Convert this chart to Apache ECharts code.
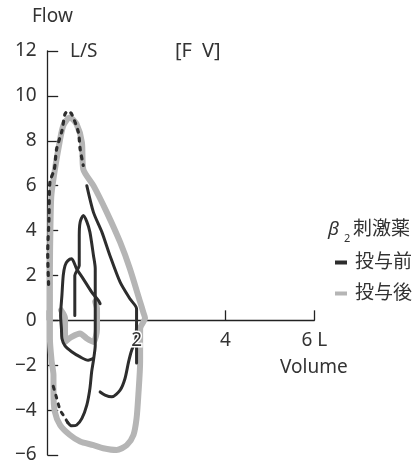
<!DOCTYPE html>
<html>
<head>
<meta charset="utf-8">
<script src="https://cdn.jsdelivr.net/npm/echarts@6/dist/echarts.min.js"></script>
<style>
  html, body { margin: 0; padding: 0; background: #fff; }
  #chart { width: 412px; height: 465px; }
</style>
</head>
<body>
<div id="chart"></div>
<script>
// ---- Data (Volume [L], Flow [L/S]) ----
const xTicks = [0, 2, 4, 6];
const xTickLabels = ['', '2', '4', '6 L'];
const yTicks = [-6, -4, -2, 0, 2, 4, 6, 8, 10, 12];
const seriesNames = ['投与前', '投与後'];

// 投与後 (after) – big flow-volume loop
const postMain = [
  [0.05,0.07],[0.05,1.26],[0.05,2.2],[0.06,4.0],[0.08,5.5],[0.13,6.3],[0.24,7.63],[0.35,8.67],
  [0.5,9.04],[0.65,8.74],[0.77,7.93],[0.8,6.74],[1.03,6.0],[1.33,4.81],[1.63,3.48],[1.85,2.3],
  [2.08,0.82],[2.15,0.37],[2.19,0.1],[2.08,-0.37],[2.08,-1.85],[2.04,-3.33],[2.0,-4.37],
  [1.93,-5.11],[1.78,-5.56],[1.55,-5.78],[1.25,-5.7],[1.03,-5.56],[0.73,-5.4],[0.5,-5.11],
  [0.28,-4.67],[0.16,-4.07],[0.13,-3.19],[0.13,-2.44],[0.09,-1.85],[0.05,-0.81],[0.05,0.07]
];
// 投与後 – tidal loop
const postTidal = [
  [0.3,0.45],[0.39,0.1],[0.39,-0.4],[0.39,-0.96],[0.54,-0.74],[0.73,-0.59],[0.88,-0.81],
  [1.03,-0.96],[1.11,-0.37],[1.11,0.3],[1.11,0.52],[1.07,0.82]
];
// 投与前 (before) – big loop, dotted upper part
const preMainDotted = [
  [0.02,1.6],[0.0,3.0],[0.03,4.6],[0.05,6.16],[0.15,6.74],[0.2,7.63],[0.32,8.44],[0.39,9.19],
  [0.46,9.33],[0.54,9.19],[0.69,8.38],[0.73,7.63],[0.8,6.9]
];
// 投与前 – big loop, solid part
const preMainSolid = [
  [0.88,6.0],[1.03,4.81],[1.22,3.93],[1.4,2.89],[1.63,1.7],[1.85,0.96],[2.0,0.52],[2.0,0.0],
  [1.98,-0.9],[1.89,-1.33],[1.82,-1.85],[1.74,-2.59],[1.63,-3.11],[1.44,-3.41],[1.29,-3.33],[1.18,-3.19]
];
const preMainTail = [[2.0,-0.6],[2.0,-1.9]];
// 投与前 – loop with peak ≈4.6
const preLoopB = [
  [0.61,0.22],[0.61,1.2],[0.61,2.0],[0.68,2.3],[0.71,2.44],[0.71,3.2],[0.71,3.78],[0.73,4.37],
  [0.8,4.67],[0.88,4.4],[0.95,3.93],[1.03,2.89],[1.07,2.3],[1.07,1.5],[1.07,0.82],[1.07,-0.07],
  [1.07,-1.11],[1.03,-1.78],[0.99,-2.28],[0.95,-3.04],[0.88,-3.78],[0.77,-4.37],[0.65,-4.67],
  [0.54,-4.7],[0.45,-4.55]
];
const preBottomDotted = [[0.45,-4.55],[0.35,-4.22],[0.28,-4.0],[0.2,-3.45],[0.12,-2.9]];
// 投与前 – loop with peak ≈2.7
const preLoopC = [
  [1.18,0.74],[1.14,0.89],[0.99,1.26],[0.8,1.85],[0.65,2.3],[0.54,2.74],[0.45,2.65],[0.39,2.44],
  [0.35,2.0],[0.32,1.11],[0.29,0.22],[0.31,-0.4],[0.32,-0.81],[0.39,-1.14],[0.54,-1.4],
  [0.73,-1.63],[0.91,-1.78],[1.03,-1.7]
];

// ---- Styles ----
const DARK = '#2d2d2d';
const GRAY = '#b5b5b5';
const TXT = '#333333';
const FONT = '"Noto Sans", "Noto Sans CJK JP", sans-serif';
const FS = 19;

function mk(name, data, color, width, type, z) {
  return {
    name: name, type: 'line', data: data, symbol: 'none', smooth: 0.25,
    lineStyle: { color: color, width: width, type: type || 'solid', cap: 'round', join: 'round' },
    itemStyle: { color: color }, z: z, silent: true, animation: false
  };
}

const chart = echarts.init(document.getElementById('chart'), null, { renderer: 'canvas' });
const option = {
  animation: false,
  backgroundColor: '#fff',
  grid: { left: 47.7, right: 97.7, top: 51, bottom: 10, outerBoundsMode: 'none', containLabel: false },
  xAxis: {
    type: 'value', min: xTicks[0], max: xTicks[xTicks.length - 1], interval: 2,
    axisLine: { onZero: true, lineStyle: { color: '#222', width: 1.3 } },
    axisTick: { show: true, inside: true, length: 10, lineStyle: { color: '#222', width: 1.3 } },
    axisLabel: { show: false },
    splitLine: { show: false }
  },
  yAxis: {
    type: 'value', min: yTicks[0], max: yTicks[yTicks.length - 1], interval: 2,
    axisLine: { onZero: false, lineStyle: { color: '#222', width: 1.3 } },
    axisTick: { show: true, inside: true, length: 10.5, lineStyle: { color: '#222', width: 1.3 } },
    axisLabel: {
      margin: 11, fontSize: FS, color: TXT, fontFamily: FONT,
      formatter: function (v) { return v < 0 ? '\u2212' + Math.abs(v) : String(v); }
    },
    splitLine: { show: false }
  },
  legend: {
    data: seriesNames, orient: 'vertical', left: 335, top: 253, padding: 0,
    icon: 'rect', itemWidth: 12, itemHeight: 4, itemGap: 12,
    textStyle: { fontSize: FS, color: TXT, fontFamily: FONT, padding: [0, 0, 0, 3] },
    selectedMode: false
  },
  series: [
    mk('投与後', postMain, GRAY, 6, 'solid', 2),
    mk('投与後', postTidal, GRAY, 6, 'solid', 2),
    mk('投与前', preMainSolid, DARK, 3, 'solid', 3),
    mk('投与前', preMainDotted, DARK, 3.2, [3, 6], 3),
    mk('投与前', preMainTail, DARK, 3, 'solid', 3),
    mk('投与前', preLoopB, DARK, 3, 'solid', 3),
    mk('投与前', preBottomDotted, DARK, 3, [3, 6], 3),
    mk('投与前', preLoopC, DARK, 3, 'solid', 3)
  ],
  graphic: [
    { type: 'text', left: 32, top: 7, style: { text: 'Flow', fontSize: FS, fill: TXT, fontFamily: FONT } },
    { type: 'text', left: 70, top: 42, style: { text: 'L/S', fontSize: FS, fill: TXT, fontFamily: FONT } },
    { type: 'text', left: 175, top: 41, style: { text: '[F\u2002V]', fontSize: 20, fill: TXT, fontFamily: FONT } },
    { type: 'text', left: 280, top: 358, style: { text: 'Volume', fontSize: FS, fill: TXT, fontFamily: FONT } },
    { type: 'text', left: 328, top: 220, style: { text: 'β', fontSize: FS, fill: TXT, fontFamily: FONT, fontStyle: 'italic' } },
    { type: 'text', left: 344, top: 233, style: { text: '2', fontSize: 11, fill: TXT, fontFamily: FONT } },
    { type: 'text', left: 353, top: 220, style: { text: '刺激薬', fontSize: FS, fill: TXT, fontFamily: FONT } }
  ]
};
chart.setOption(option);

// x-axis tick labels placed through the axis scale (drawn above the curves, with white halo)
const xLabelGraphics = xTicks.map(function (v, i) {
  const p = chart.convertToPixel({ xAxisIndex: 0, yAxisIndex: 0 }, [v, 0]);
  return {
    id: 'xlab' + i, type: 'text', z: 100, x: p[0], y: p[1] + 11,
    style: {
      text: xTickLabels[i], fontSize: FS, fill: TXT, fontFamily: FONT,
      align: 'center', verticalAlign: 'top', stroke: '#fff', lineWidth: 3
    }
  };
});
chart.setOption({ graphic: xLabelGraphics });
</script>
</body>
</html>
